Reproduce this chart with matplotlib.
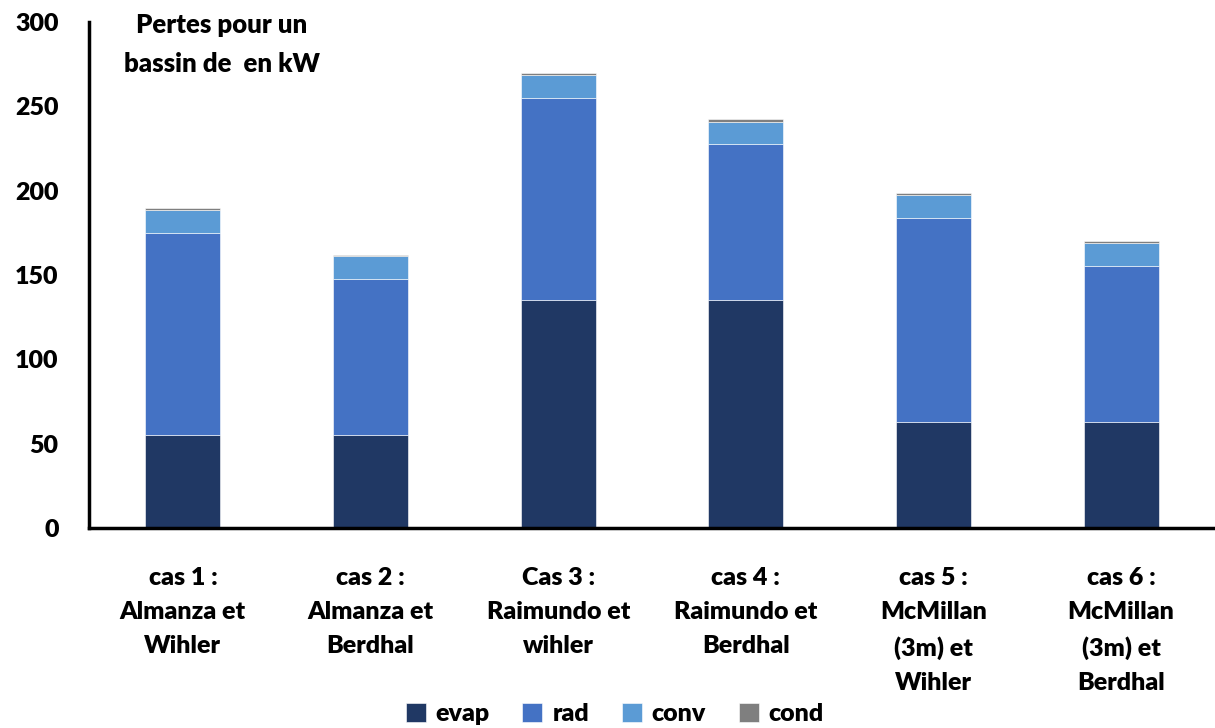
import matplotlib
matplotlib.use("Agg")
import matplotlib.pyplot as plt
import numpy as np

plt.rcParams['font.family'] = ['Lato', 'DejaVu Sans']
plt.rcParams['font.weight'] = 'heavy'

categories = ["cas 1 :\nAlmanza et\nWihler", "cas 2 :\nAlmanza et\nBerdhal",
              "Cas 3 :\nRaimundo et\nwihler", "cas 4 :\nRaimundo et\nBerdhal",
              "cas 5 :\nMcMillan\n(3m) et\nWihler", "cas 6 :\nMcMillan\n(3m) et\nBerdhal"]
evap = [55, 55, 135, 135, 63, 63]
rad = [120, 92.5, 120, 92.5, 121, 92.5]
conv = [13.5, 13.5, 13.5, 13.5, 13.5, 13.5]
cond = [1, 1, 1, 1.2, 1, 1]

series = [("evap", evap, "#203864"), ("rad", rad, "#4472C4"),
          ("conv", conv, "#5B9BD5"), ("cond", cond, "#7F7F7F")]

fig = plt.figure(figsize=(12.15, 7.28), dpi=100)
ax = fig.add_axes([0.0733, 0.2747, 0.9267, 0.6951])

x = np.arange(len(categories))
bottom = np.zeros(len(categories))
for name, vals, col in series:
    ax.bar(x, vals, 0.4, bottom=bottom, color=col, label=name,
           edgecolor="white", linewidth=0.4)
    bottom += np.array(vals)

ax.set_xlim(-0.5, 5.5)
ax.set_ylim(0, 300)
ax.set_yticks([0, 50, 100, 150, 200, 250, 300])
ax.set_xticks(x)
ax.set_xticklabels(categories, fontsize=18, fontweight='heavy', linespacing=1.68)
ax.tick_params(axis='y', labelsize=18, length=0, pad=22)
ax.tick_params(axis='x', length=0, pad=28)
for lab in ax.get_yticklabels():
    lab.set_fontweight('heavy')
ax.spines['top'].set_visible(False)
ax.spines['right'].set_visible(False)
ax.spines['left'].set_linewidth(2.5)
ax.spines['bottom'].set_linewidth(2.5)

ax.text(0.118, 1.017, "Pertes pour un\nbassin de  en kW", transform=ax.transAxes,
        ha='center', va='top', fontsize=18.5, fontweight='heavy', linespacing=1.75)

fig.legend(loc='lower center', bbox_to_anchor=(0.506, -0.027), ncol=4, frameon=False,
           handlelength=0.8, handleheight=0.8, handletextpad=0.4,
           columnspacing=1.3, prop={'weight': 'heavy', 'size': 18})

fig.savefig("out.png", dpi=100)
